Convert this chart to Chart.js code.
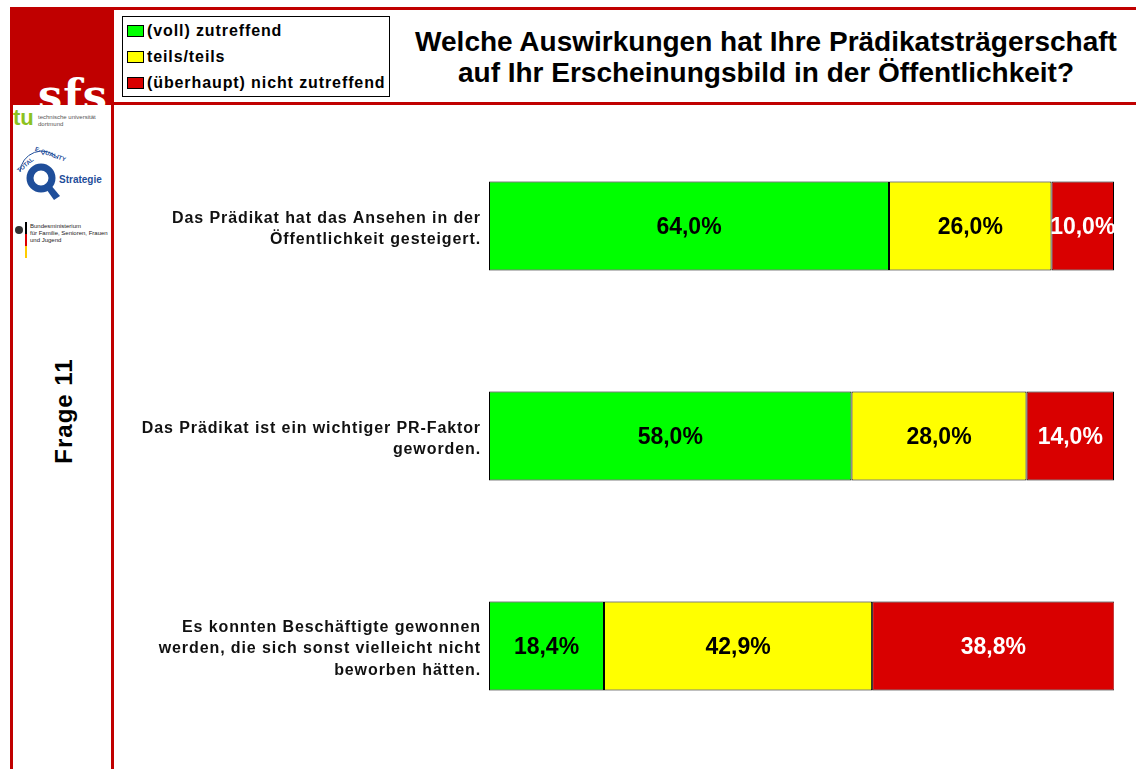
<!DOCTYPE html>
<html lang="de">
<head>
<meta charset="utf-8">
<title>Frage 11</title>
<script src="https://cdn.jsdelivr.net/npm/chart.js@4"></script>
<style>
  html, body { margin: 0; padding: 0; background: #fff; }
  body { width: 1136px; height: 769px; position: relative; overflow: hidden; font-family: "Liberation Sans", Arial, sans-serif; }
  .red { position: absolute; background: #c00000; }
  #sfs { position: absolute; left: 10px; top: 7px; width: 103px; height: 98px; background: #c00000; overflow: hidden; }
  #sfs span { position: absolute; left: 28px; top: 63px; color: #fff; font: bold 43px "DejaVu Serif", serif; letter-spacing: 1px; }
  #legend { position: absolute; left: 122px; top: 16px; width: 268px; height: 81px; border: 1px solid #000; box-sizing: border-box; padding: 1px 0 0 4px; }
  #legend div { height: 26px; font: bold 16px "Liberation Sans", Arial, sans-serif; letter-spacing: 0.9px; line-height: 26px; color: #000; white-space: nowrap; }
  #legend i { display: inline-block; width: 15px; height: 10px; border: 1px solid #000; margin-right: 3px; vertical-align: -1px; }
  #title { position: absolute; left: 392px; top: 26px; width: 748px; text-align: center; font: bold 28px "Liberation Sans", Arial, sans-serif; line-height: 31px; color: #000; white-space: nowrap; }
  #frage { position: absolute; left: 64px; top: 411px; transform: translate(-50%, -50%) rotate(-90deg); font: bold 24px "Liberation Sans", Arial, sans-serif; letter-spacing: 1px; white-space: nowrap; color: #000; }
  .tiny { position: absolute; font: 6px "Liberation Sans", Arial, sans-serif; color: #555; line-height: 7px; white-space: nowrap; }
  #wrap { position: absolute; left: 115px; top: 110px; width: 1021px; height: 659px; }
</style>
</head>
<body>
<div class="red" style="left:10px;top:7px;width:1126px;height:3px;"></div>
<div class="red" style="left:112px;top:102px;width:1024px;height:3px;"></div>
<div class="red" style="left:10px;top:7px;width:3px;height:762px;"></div>
<div class="red" style="left:111px;top:7px;width:3px;height:762px;"></div>
<div id="sfs"><span>sfs</span></div>

<!-- logos in the left column -->
<div style="position:absolute;left:13px;top:107px;font:bold 22px 'Liberation Sans',Arial;color:#8cc21f;line-height:22px;">tu</div>
<div class="tiny" style="left:38px;top:114px;">technische universität<br>dortmund</div>
<svg style="position:absolute;left:14px;top:146px;" width="95" height="64" viewBox="0 0 95 64">
  <path d="M6 26 A22 22 0 0 1 44 12" fill="none" stroke="#1f4e9a" stroke-width="1" />
  <text x="2" y="22" font-size="6" font-weight="bold" fill="#1f4e9a" font-family="Liberation Sans" transform="rotate(-40 10 20)">TOTAL</text>
  <text x="20" y="8" font-size="6" font-weight="bold" fill="#1f4e9a" font-family="Liberation Sans" transform="rotate(20 30 8)">E-QUALITY</text>
  <circle cx="27" cy="32" r="11" fill="none" stroke="#1f4e9a" stroke-width="7" />
  <path d="M30 40 L40 54 L46 50 L36 38 Z" fill="#1f4e9a" />
  <text x="45" y="37" font-size="10" font-weight="bold" fill="#1f4e9a" font-family="Liberation Sans">Strategie</text>
</svg>
<svg style="position:absolute;left:14px;top:222px;" width="18" height="36">
  <circle cx="5" cy="8" r="4" fill="#333" />
  <rect x="11" y="0" width="2" height="12" fill="#000" />
  <rect x="11" y="12" width="2" height="12" fill="#d00" />
  <rect x="11" y="24" width="2" height="12" fill="#fc0" />
</svg>
<div class="tiny" style="left:30px;top:223px;color:#222;">Bundesministerium<br>für Familie, Senioren, Frauen<br>und Jugend</div>

<div id="frage">Frage 11</div>
<div id="legend"></div>
<div id="title">Welche Auswirkungen hat Ihre Prädikatsträgerschaft<br>auf Ihr Erscheinungsbild in der Öffentlichkeit?</div>

<div id="wrap"><canvas id="chartFrage11"></canvas></div>

<script>
const statements = [
    ['Das Prädikat hat das Ansehen in der', 'Öffentlichkeit gesteigert.'],
    ['Das Prädikat ist ein wichtiger PR-Faktor', 'geworden.'],
    ['Es konnten Beschäftigte gewonnen', 'werden, die sich sonst vielleicht nicht', 'beworben hätten.']
];
const seriesNames = ['(voll) zutreffend', 'teils/teils', '(überhaupt) nicht zutreffend'];
const vollZutreffend = [64.0, 58.0, 18.4];
const teilsTeils = [26.0, 28.0, 42.9];
const nichtZutreffend = [10.0, 14.0, 38.8];
const colors = ['#00ff00', '#ffff00', '#d90000'];
const labelColors = ['#000', '#000', '#fff'];

// legend in the header box
const legendBox = document.getElementById('legend');
seriesNames.forEach((name, i) => {
    const row = document.createElement('div');
    const sw = document.createElement('i');
    sw.style.background = colors[i];
    row.appendChild(sw);
    row.appendChild(document.createTextNode(name));
    legendBox.appendChild(row);
});

// wider tracking for the statement texts
const tracking = {
    id: 'tracking',
    beforeLayout(chart) { chart.ctx.letterSpacing = '0.9px'; },
    beforeDraw(chart) { chart.ctx.letterSpacing = '0.9px'; }
};

// percent labels inside the bars
const barLabels = {
    id: 'barLabels',
    afterDatasetsDraw(chart) {
        const c = chart.ctx;
        c.save();
        c.letterSpacing = '0px';
        c.font = 'bold 23px "Liberation Sans", Arial, sans-serif';
        c.textAlign = 'center';
        c.textBaseline = 'middle';
        chart.data.datasets.forEach((ds, i) => {
            chart.getDatasetMeta(i).data.forEach((bar, j) => {
                const p = bar.getCenterPoint();
                c.fillStyle = labelColors[i];
                c.fillText(ds.data[j].toFixed(1).replace('.', ',') + '%', p.x, p.y + 2);
            });
        });
        c.restore();
    }
};

const ctx = document.getElementById('chartFrage11');

new Chart(ctx, {
    type: 'bar',
    data: {
        labels: statements,
        datasets: [vollZutreffend, teilsTeils, nichtZutreffend].map((values, i) => ({
            label: seriesNames[i],
            data: values,
            backgroundColor: colors[i],
            borderColor: '#000',
            borderWidth: 1,
            borderSkipped: false,
            categoryPercentage: 1,
            barPercentage: 0.424
        }))
    },
    options: {
        indexAxis: 'y',
        responsive: true,
        maintainAspectRatio: false,
        animation: false,
        layout: { padding: { top: 11, bottom: 18, right: 22, left: 0 } },
        plugins: {
            legend: { display: false },
            tooltip: { enabled: false }
        },
        scales: {
            x: {
                stacked: true,
                min: 0,
                max: 100,
                display: false
            },
            y: {
                stacked: true,
                grid: { display: false, drawTicks: false },
                border: { display: false },
                afterFit: (scale) => {
                    scale.width = 374;
                    scale.paddingTop = 0;
                    scale.paddingBottom = 0;
                },
                ticks: {
                    padding: 8,
                    labelOffset: 3,
                    color: '#111',
                    font: { family: '"Liberation Sans", Arial, sans-serif', size: 16, weight: 'bold', lineHeight: 1.36 }
                }
            }
        }
    },
    plugins: [tracking, barLabels]
});
</script>
</body>
</html>
